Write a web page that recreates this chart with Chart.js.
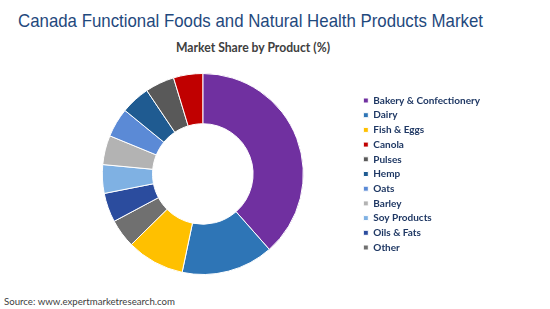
<!DOCTYPE html>
<html>
<head>
<meta charset="utf-8">
<script src="https://cdn.jsdelivr.net/npm/chart.js@4.4.0/dist/chart.umd.min.js"></script>
<style>
  html, body { margin: 0; padding: 0; background: #fff; }
  #wrap { position: relative; width: 550px; height: 309px; overflow: hidden; }
  .txt { position: absolute; white-space: nowrap; line-height: 1; transform-origin: 0 0; }
  #title { left: 18px; top: 10px; font: 19px "Liberation Sans", Arial, sans-serif; color: #1F497D; }
  #subtitle { left: 176px; top: 40px; font: bold 12.5px Lato, sans-serif; color: #404040; }
  #source { left: 4px; top: 295px; font: 10px Lato, sans-serif; color: #404040; }
  #myChart { position: absolute; left: 0; top: 60px; }
</style>
</head>
<body>
<div id="wrap">
  <div class="txt" id="title" data-w="465">Canada Functional Foods and Natural Health Products Market</div>
  <div class="txt" id="subtitle" data-w="154">Market Share by Product (%)</div>
  <canvas id="myChart" width="550" height="230"></canvas>
  <div class="txt" id="source" data-w="171">Source: www.expertmarketresearch.com</div>
</div>
<script>
// slices in clockwise order, starting at 12 o'clock
var categories = ["Bakery & Confectionery", "Dairy", "Fish & Eggs", "Other", "Oils & Fats",
                  "Soy Products", "Barley", "Oats", "Hemp", "Pulses", "Canola"];
var shares = [38.5, 14.8, 9.3, 4.6, 4.7, 4.6, 4.7, 4.7, 4.7, 4.7, 4.7];
var colors = ["#7030A0", "#2E75B6", "#FFC000", "#707070", "#2B4C9E",
              "#7FB1E3", "#B3B3B3", "#5B8AD6", "#1F5B91", "#595959", "#C00000"];
// order the legend shows them in
var legendOrder = ["Bakery & Confectionery", "Dairy", "Fish & Eggs", "Canola", "Pulses", "Hemp",
                   "Oats", "Barley", "Soy Products", "Oils & Fats", "Other"];

// squeeze the html texts to the widths seen in the picture
document.querySelectorAll('.txt').forEach(function (el) {
    var w = el.getBoundingClientRect().width;
    el.style.transform = 'scaleX(' + (el.dataset.w / w) + ')';
});

function renderChart() {
    var ctx = document.getElementById("myChart").getContext('2d');
    var myChart = new Chart(ctx, {
        type: 'doughnut',
        data: {
            labels: categories,
            datasets: [{
                data: shares,
                backgroundColor: colors,
                borderColor: '#ffffff',
                borderWidth: 1
            }]
        },
        options: {
            responsive: false,
            animation: false,
            cutout: '50%',
            layout: { padding: { left: 47, right: 60, top: 13, bottom: 15 } },
            plugins: {
                tooltip: { enabled: false },
                legend: {
                    position: 'right',
                    labels: {
                        boxWidth: 5,
                        boxHeight: 5,
                        padding: 4.7,
                        color: '#1F3864',
                        font: { family: 'Lato', size: 10, weight: 'bold' },
                        sort: function (a, b) {
                            return legendOrder.indexOf(a.text) - legendOrder.indexOf(b.text);
                        }
                    }
                }
            }
        }
    });
}

renderChart();
</script>
</body>
</html>
